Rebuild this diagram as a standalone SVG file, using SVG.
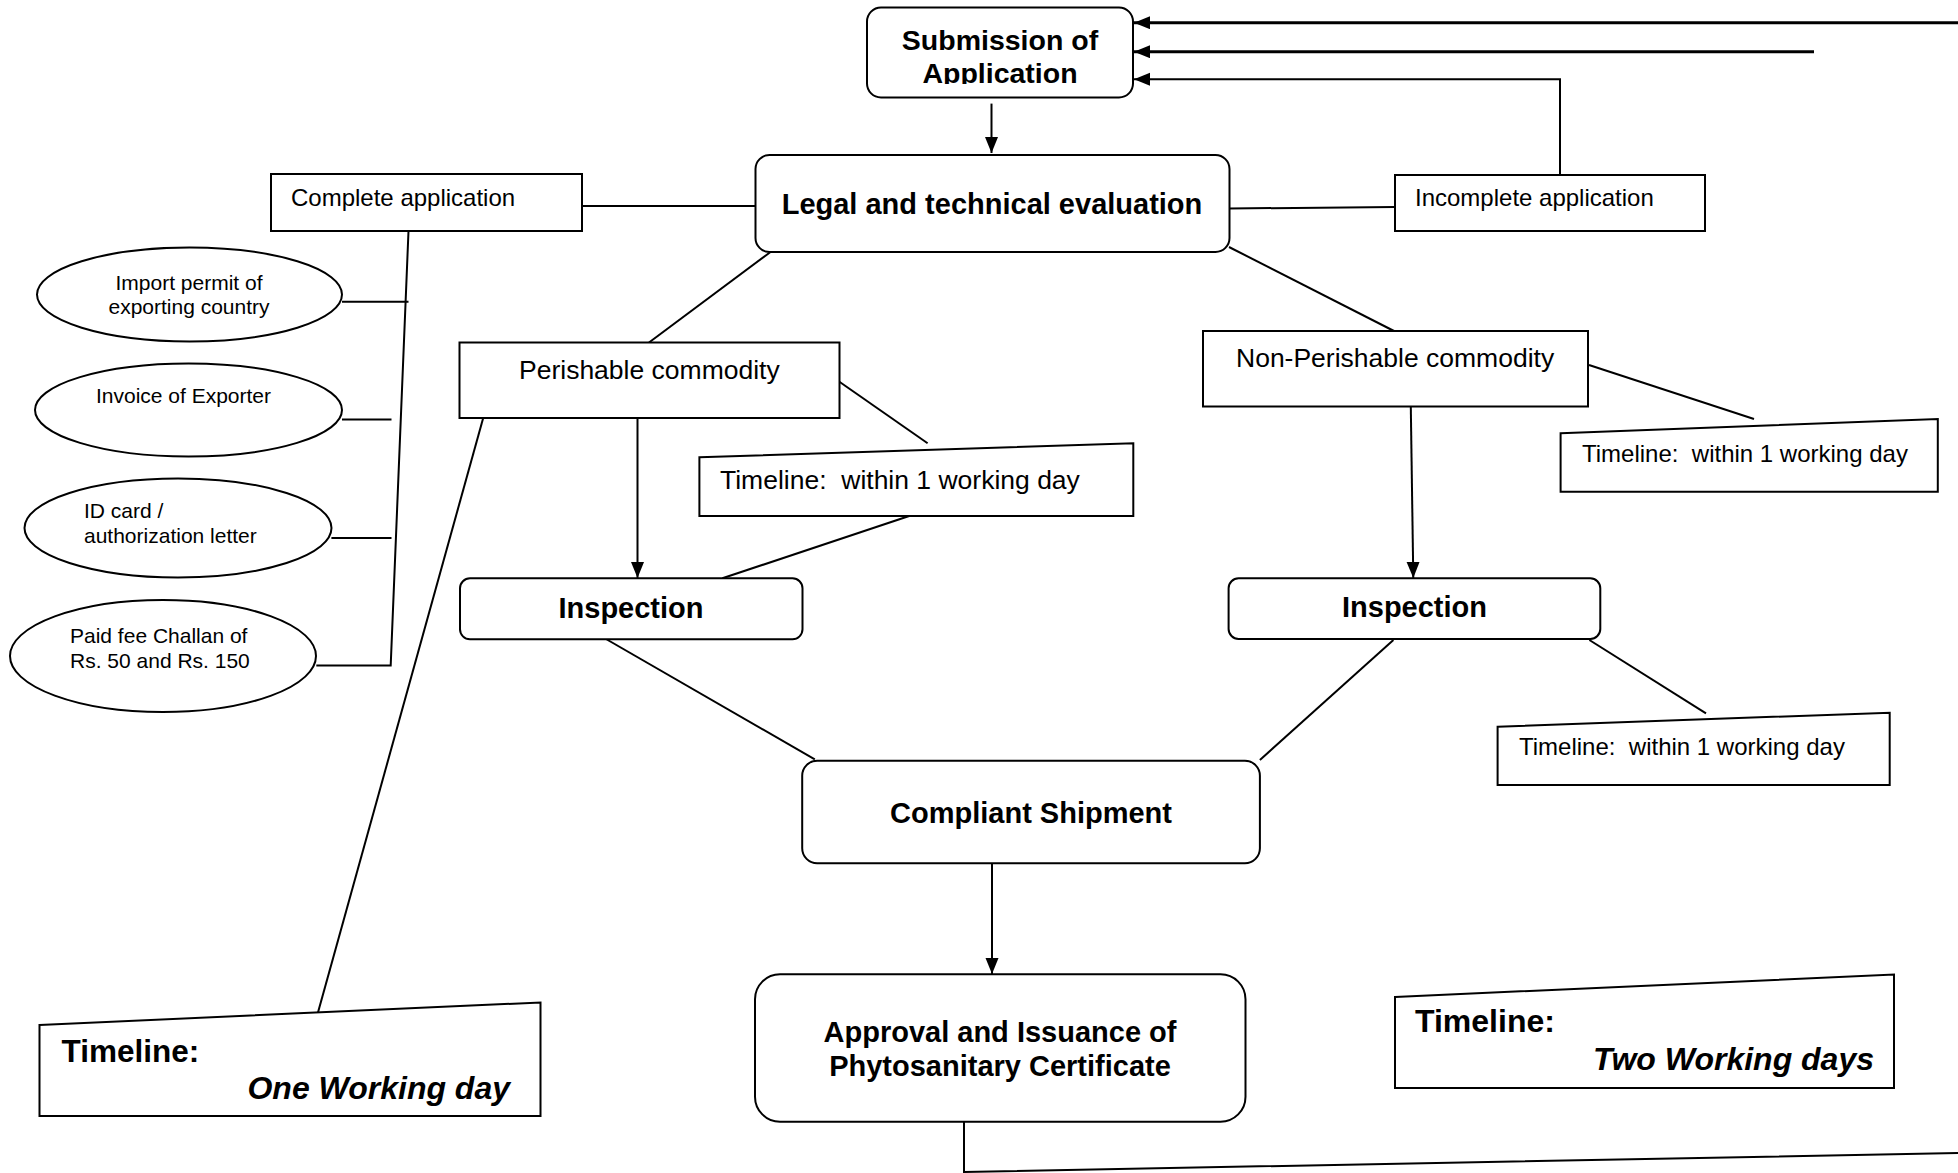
<svg xmlns="http://www.w3.org/2000/svg" width="1958" height="1173" viewBox="0 0 1958 1173">
<style>
.box{fill:#fff;stroke:#000;stroke-width:2}
.ln{fill:none;stroke:#000;stroke-width:2}
.thick{stroke-width:3}
text{font-family:"Liberation Sans",Arial,sans-serif;fill:#000;white-space:pre}
.b{font-weight:bold}
.bi{font-weight:bold;font-style:italic}
.c{text-anchor:middle}
.e{text-anchor:end}
</style>
<defs>
<marker id="arr" markerUnits="userSpaceOnUse" markerWidth="18" markerHeight="14" refX="16" refY="6.5" orient="auto">
<path d="M0,0 L16,6.5 L0,13 z" fill="#000"/>
</marker>
<clipPath id="subclip"><rect x="867" y="7" width="266" height="77"/></clipPath>
</defs>
<rect width="1958" height="1173" fill="#fff"/>

<g id="connectors">
<line class="ln" x1="582" y1="206" x2="755.5" y2="206"/>
<line class="ln" x1="1229.5" y1="208.5" x2="1395" y2="207"/>
<polyline class="ln" points="408.5,231 390.7,665.4 316.3,665.4"/>
<line class="ln" x1="342" y1="301.8" x2="408.5" y2="301.8"/>
<line class="ln" x1="342" y1="419.6" x2="391.5" y2="419.6"/>
<line class="ln" x1="331.4" y1="538" x2="391.5" y2="538"/>
<line class="ln" x1="770.5" y1="252" x2="649" y2="342.5"/>
<line class="ln" x1="1229" y1="247" x2="1394" y2="331"/>
<line class="ln" x1="637.5" y1="418" x2="637.5" y2="578" marker-end="url(#arr)"/>
<line class="ln" x1="839.4" y1="381.7" x2="927.6" y2="443.3"/>
<line class="ln" x1="722.4" y1="578.3" x2="909.2" y2="516"/>
<line class="ln" x1="483.2" y1="418" x2="317" y2="1016"/>
<line class="ln" x1="606" y1="639" x2="814.8" y2="759.3"/>
<line class="ln" x1="1589" y1="365" x2="1754" y2="419"/>
<line class="ln" x1="1410.8" y1="406.7" x2="1413.3" y2="578" marker-end="url(#arr)"/>
<line class="ln" x1="1393.4" y1="640" x2="1259.9" y2="760"/>
<line class="ln" x1="1589.4" y1="640" x2="1706" y2="713.3"/>
<line class="ln" x1="992" y1="863.3" x2="992" y2="974" marker-end="url(#arr)"/>
<line class="ln" x1="991.5" y1="103.6" x2="991.5" y2="153" marker-end="url(#arr)"/>
<polyline class="ln" points="964,1121.7 964,1172 1958,1153"/>
<line class="ln thick" x1="1958" y1="22.7" x2="1134" y2="22.7" marker-end="url(#arr)"/>
<line class="ln thick" x1="1814" y1="51.7" x2="1134" y2="51.7" marker-end="url(#arr)"/>
<polyline class="ln" points="1560,175 1560,79.3 1134,79.3" marker-end="url(#arr)"/>
</g>

<g id="submission">
<rect class="box" x="867" y="7.5" width="266" height="90" rx="14"/>
<g clip-path="url(#subclip)">
<text class="b c" x="1000" y="50" font-size="28.5">Submission of</text>
<text class="b c" x="1000" y="83" font-size="28.5">Application</text>
</g>
</g>

<g id="legal">
<rect class="box" x="755.5" y="155" width="474" height="97" rx="14"/>
<text class="b c" x="992" y="214" font-size="29">Legal and technical evaluation</text>
</g>

<g id="complete">
<rect class="box" x="271" y="174" width="311" height="57"/>
<text x="291" y="206" font-size="24">Complete application</text>
</g>

<g id="incomplete">
<rect class="box" x="1395" y="175" width="310" height="56"/>
<text x="1415" y="206" font-size="24">Incomplete application</text>
</g>

<g id="import-permit">
<ellipse class="box" cx="189.5" cy="294.5" rx="152.5" ry="47"/>
<text class="c" x="189" y="290" font-size="21">Import permit of</text>
<text class="c" x="189" y="314" font-size="21">exporting country</text>
</g>

<g id="invoice">
<ellipse class="box" cx="188.5" cy="410" rx="153.5" ry="46.5"/>
<text class="c" x="183.5" y="403" font-size="21">Invoice of Exporter</text>
</g>

<g id="id-card">
<ellipse class="box" cx="178" cy="528" rx="153.5" ry="49.5"/>
<text x="84" y="518" font-size="21">ID card /</text>
<text x="84" y="543" font-size="21">authorization letter</text>
</g>

<g id="fee-challan">
<ellipse class="box" cx="163" cy="656" rx="153" ry="56"/>
<text x="70" y="643" font-size="21">Paid fee Challan of</text>
<text x="70" y="668" font-size="21">Rs. 50 and Rs. 150</text>
</g>

<g id="perishable">
<rect class="box" x="459.5" y="342.5" width="380" height="75.5"/>
<text x="519" y="379" font-size="26.5">Perishable commodity</text>
</g>

<g id="non-perishable">
<rect class="box" x="1203" y="331" width="385" height="75.5"/>
<text x="1236" y="367" font-size="26.5">Non-Perishable commodity</text>
</g>

<g id="timeline-perishable">
<polygon class="box" points="699.4,457.3 1133.3,443.3 1133.3,516 699.4,516"/>
<text x="720" y="489" font-size="26.5">Timeline:  within 1 working day</text>
</g>

<g id="timeline-nonperishable">
<polygon class="box" points="1560.6,433.3 1937.8,419 1937.8,491.7 1560.6,491.7"/>
<text x="1582" y="461.7" font-size="24">Timeline:  within 1 working day</text>
</g>

<g id="inspection-left">
<rect class="box" x="460" y="578.3" width="342.5" height="61" rx="10"/>
<text class="b c" x="631" y="617.5" font-size="29">Inspection</text>
</g>

<g id="inspection-right">
<rect class="box" x="1228.6" y="578.3" width="371.7" height="60.7" rx="10"/>
<text class="b c" x="1414.5" y="617" font-size="29">Inspection</text>
</g>

<g id="timeline-inspection">
<polygon class="box" points="1497.6,726.7 1889.7,712.7 1889.7,785 1497.6,785"/>
<text x="1519" y="755" font-size="24">Timeline:  within 1 working day</text>
</g>

<g id="compliant">
<rect class="box" x="802.2" y="760.7" width="457.7" height="102.6" rx="15"/>
<text class="b c" x="1031" y="822.7" font-size="29">Compliant Shipment</text>
</g>

<g id="approval">
<rect class="box" x="755" y="974.3" width="490.5" height="147.4" rx="25"/>
<text class="b c" x="1000" y="1042" font-size="29">Approval and Issuance of</text>
<text class="b c" x="1000" y="1076" font-size="29">Phytosanitary Certificate</text>
</g>

<g id="timeline-one-day">
<polygon class="box" points="39.5,1025 540.5,1002.5 540.5,1116 39.5,1116"/>
<text class="b" x="61.5" y="1062" font-size="31.5">Timeline:</text>
<text class="bi e" x="510" y="1099" font-size="32">One Working day</text>
</g>

<g id="timeline-two-days">
<polygon class="box" points="1395,997 1894,974.5 1894,1088 1395,1088"/>
<text class="b" x="1415" y="1032" font-size="32">Timeline:</text>
<text class="bi e" x="1874" y="1070" font-size="32">Two Working days</text>
</g>
</svg>
